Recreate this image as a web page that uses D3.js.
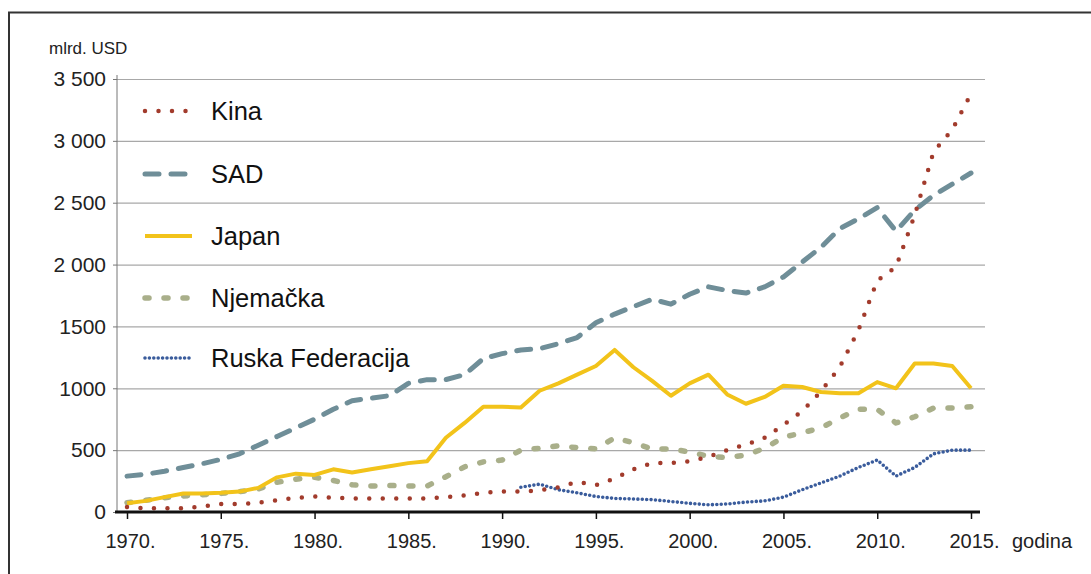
<!DOCTYPE html>
<html>
<head>
<meta charset="utf-8">
<script src="https://cdn.jsdelivr.net/npm/d3@7"></script>
<style>
  body { margin: 0; background: #fff; }
  svg { display: block; font-family: "Liberation Sans", Arial, sans-serif; }
  .grid line { stroke: #a8a8a8; stroke-width: 1.2; }
  .grid path { display: none; }
  .series { fill: none; }
</style>
</head>
<body>
<svg width="1091" height="574"></svg>
<script>
const years = d3.range(1970, 2016);

const kina = [
  40, 30, 30, 30, 45, 65, 65, 75, 95, 115,
  125, 115, 110, 110, 110, 110, 110, 120, 135, 155,
  165, 165, 175, 200, 243, 218, 270, 345, 396, 396,
  410, 445, 500, 545, 600, 705, 815, 975, 1170, 1470,
  1870, 1980, 2400, 2910, 3090, 3380
];

const sad = [
  290, 305, 330, 360, 390, 425, 470, 540, 610, 680,
  750, 830, 900, 920, 940, 1040, 1070, 1070, 1110, 1240,
  1280, 1310, 1320, 1360, 1410, 1530, 1600, 1660, 1720, 1680,
  1760, 1820, 1790, 1770, 1820, 1900, 2020, 2140, 2290, 2370,
  2460, 2270, 2440, 2560, 2650, 2740
];

const japan = [
  70, 90, 120, 150, 150, 155, 165, 195, 280, 310,
  300, 345, 320, 345, 370, 395, 410, 600, 720, 850,
  850, 845, 980, 1040, 1110, 1180, 1310, 1170, 1060, 940,
  1040, 1110, 950, 875, 930, 1020, 1010, 970, 960, 960,
  1050, 1000, 1200, 1200, 1180, 1000
];

const njemacka = [
  75, 95, 115, 130, 140, 150, 165, 185, 240, 265,
  280, 255, 220, 210, 215, 210, 210, 285, 365, 405,
  420, 500, 515, 535, 520, 510, 600, 560, 510, 510,
  485, 450, 440, 460, 515, 605, 640, 680, 760, 830,
  830, 720, 770, 840, 840, 850
];

const rusija = [
  null, null, null, null, null, null, null, null, null, null,
  null, null, null, null, null, null, null, null, null, null,
  null, 200, 225, 180, 155, 125, 110, 105, 100, 85,
  70, 58, 65, 80, 90, 120, 180, 235, 290, 360,
  420, 290, 360, 470, 500, 500
];

const seriesNames = ["Kina", "SAD", "Japan", "Njemačka", "Ruska Federacija"];
const seriesValues = [kina, sad, japan, njemacka, rusija];

const yTicks = [0, 500, 1000, 1500, 2000, 2500, 3000, 3500];
const yTickLabels = ["0", "500", "1000", "1500", "2 000", "2 500", "3 000", "3 500"];
const xTicks = [1970, 1975, 1980, 1985, 1990, 1995, 2000, 2005, 2010, 2015];

const styles = [
  {color: "#a23b2c", width: 4.5, dash: "0, 13.5"},
  {color: "#6f8e98", width: 5,   dash: "14, 12"},
  {color: "#f2c31a", width: 4,   dash: null},
  {color: "#a9af8a", width: 5.5, dash: "4, 15"},
  {color: "#3a5c9c", width: 3.6, dash: "0, 4.4"}
];

const svg = d3.select("svg");

const x = d3.scaleLinear().domain([1970, 2015]).range([127, 971]);
const y = d3.scaleLinear().domain([0, 3500]).range([512, 79]);

// outer frame (left + top only)
svg.append("path")
  .attr("d", "M9,574 V12.5 H1091")
  .attr("fill", "none")
  .attr("stroke", "#333")
  .attr("stroke-width", 2);

// gridlines
svg.append("g")
  .attr("class", "grid")
  .attr("transform", "translate(117,0)")
  .call(d3.axisLeft(y).tickValues(yTicks.slice(1)).tickSize(-868).tickFormat(""));

// y axis
const yAxis = svg.append("g")
  .attr("transform", "translate(117,0)")
  .call(d3.axisLeft(y).tickValues(yTicks).tickSize(4).tickPadding(7)
    .tickFormat((d, i) => yTickLabels[i]));
yAxis.select(".domain").attr("stroke", "#777").attr("d", "M0,75V512");
yAxis.selectAll(".tick line").attr("stroke", "#777");
yAxis.selectAll("text")
  .attr("font-size", 21)
  .attr("fill", "#222")
  .attr("font-family", "Liberation Sans, Arial, sans-serif");

svg.append("text")
  .attr("x", 49)
  .attr("y", 54)
  .attr("font-size", 17)
  .attr("fill", "#222")
  .text("mlrd. USD");

// series
const line = d3.line()
  .defined(d => d[1] !== null)
  .x(d => x(d[0]))
  .y(d => y(d[1]));

const drawOrder = [3, 1, 2, 4, 0];
drawOrder.forEach(function(i) {
  const s = styles[i];
  svg.append("path")
    .datum(years.map((yr, j) => [yr, seriesValues[i][j]]))
    .attr("class", "series")
    .attr("d", line)
    .attr("stroke", s.color)
    .attr("stroke-width", s.width)
    .attr("stroke-linecap", s.dash ? "round" : "butt")
    .attr("stroke-linejoin", "round")
    .attr("stroke-dasharray", s.dash);
});

// x axis
const xAxis = svg.append("g")
  .attr("transform", "translate(0,512)")
  .call(d3.axisBottom(x).tickValues(xTicks).tickSize(7).tickPadding(15)
    .tickFormat(d => d + "."));
xAxis.select(".domain").attr("d", "M115,0H980").attr("stroke", "#111").attr("stroke-width", 3);
xAxis.selectAll(".tick line").attr("stroke", "#111").attr("stroke-width", 1.5);
xAxis.selectAll("text")
  .attr("font-size", 20)
  .attr("fill", "#222")
  .attr("dx", 3)
  .attr("font-family", "Liberation Sans, Arial, sans-serif");

svg.append("text")
  .attr("x", 1012)
  .attr("y", 548)
  .attr("font-size", 20)
  .attr("fill", "#222")
  .text("godina");

// legend
const legendY = [111, 174, 236, 298, 358];
const legend = svg.append("g");
seriesNames.forEach(function(name, i) {
  const s = styles[i];
  legend.append("line")
    .attr("x1", 145).attr("x2", 192)
    .attr("y1", legendY[i]).attr("y2", legendY[i])
    .attr("stroke", s.color)
    .attr("stroke-width", s.width)
    .attr("stroke-linecap", s.dash ? "round" : "butt")
    .attr("stroke-dasharray", s.dash);
  legend.append("text")
    .attr("x", 211)
    .attr("y", legendY[i])
    .attr("dy", "0.35em")
    .attr("font-size", 25.5)
    .attr("fill", "#111")
    .text(name);
});
</script>
</body>
</html>
